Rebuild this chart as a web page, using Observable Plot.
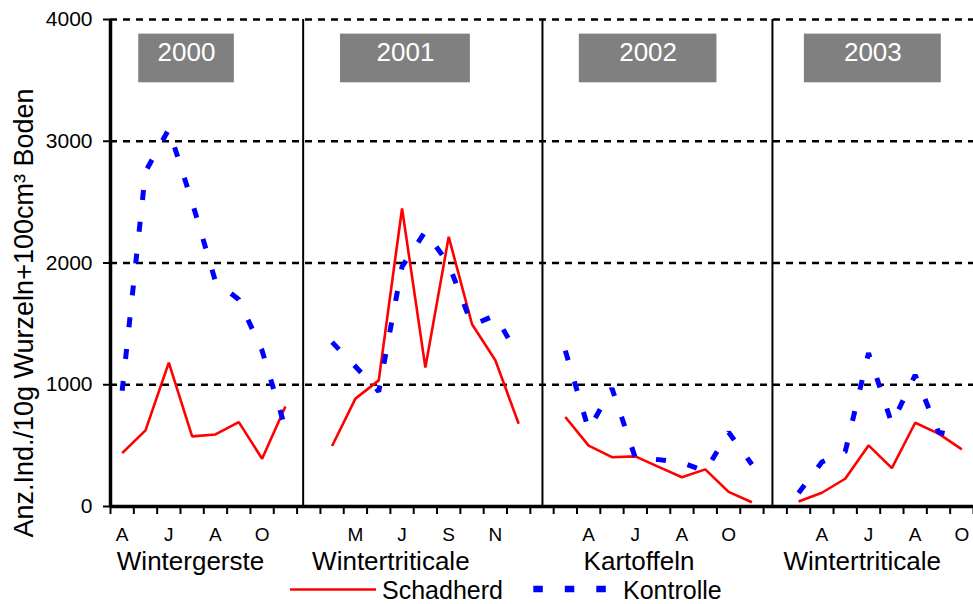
<!DOCTYPE html>
<html>
<head>
<meta charset="utf-8">
<script src="https://cdn.jsdelivr.net/npm/d3@7"></script>
<script src="https://cdn.jsdelivr.net/npm/@observablehq/plot@0.6"></script>
<style>
  body { margin: 0; background: #fff; font-family: "Liberation Sans", Arial, sans-serif; }
  #wrap { position: relative; width: 973px; height: 604px; overflow: hidden; background: #fff; }
  #legend { position: absolute; left: 0; top: 569px; width: 973px; height: 35px; }
</style>
</head>
<body>
<div id="wrap"><div id="chart"></div><div id="legend"></div></div>
<script>
// ---- data ----
const years = ["2000", "2001", "2002", "2003"];
const crops = ["Wintergerste", "Wintertriticale", "Kartoffeln", "Wintertriticale"];
// month slot index along the time axis (one slot per month, gaps between seasons)
const slots2000 = [0, 1, 2, 3, 4, 5, 6, 7];
const slots2001 = [9, 10, 11, 12, 13, 14, 15, 16, 17];
const slots2002 = [19, 20, 21, 22, 23, 24, 25, 26, 27];
const slots2003 = [29, 30, 31, 32, 33, 34, 35, 36];
const schadherd2000 = [438, 625, 1182, 576, 592, 693, 392, 822];
const schadherd2001 = [497, 886, 1036, 2448, 1141, 2215, 1497, 1201, 680];
const schadherd2002 = [735, 500, 405, 412, 325, 240, 305, 120, 35];
const schadherd2003 = [41, 113, 228, 502, 315, 688, 598, 469];
const kontrolle2000 = [950, 2750, 3100, 2500, 1850, 1700, 1280, 640];
const kontrolle2001 = [1350, 1150, 945, 1970, 2260, 1990, 1490, 1570, 1230];
const kontrolle2002 = [1280, 630, 970, 400, 385, 360, 290, 610, 345];
const kontrolle2003 = [110, 365, 450, 1260, 680, 1080, 610, 570];
const yTicks = [0, 1000, 2000, 3000, 4000];
const monthSlots = [0, 2, 4, 6, 10, 12, 14, 16, 20, 22, 24, 26, 30, 32, 34, 36];
const monthLabels = ["A", "J", "A", "O", "M", "J", "S", "N", "A", "J", "A", "O", "A", "J", "A", "O"];
const seriesNames = ["Schadherd", "Kontrolle"];

// ---- annotation layout (slot units) ----
const cropCenters = [3.43, 12.02, 22.66, 32.23];
const separators = [8.26, 18.52, 28.38];
const yearBoxX1 = [1.21, 9.86, 20.1, 29.75];
const yearBoxX2 = [5.31, 15.43, 26.0, 35.62];

// ---- build tables ----
const slots = [slots2000, slots2001, slots2002, slots2003];
const schad = [schadherd2000, schadherd2001, schadherd2002, schadherd2003];
const kont = [kontrolle2000, kontrolle2001, kontrolle2002, kontrolle2003];
function rowsFor(vals, name) {
  const out = [];
  vals.forEach((arr, p) => arr.forEach((v, i) => out.push({series: name, panel: p, slot: slots[p][i] + 0.5, value: v})));
  return out;
}
const schadRows = rowsFor(schad, seriesNames[0]);
const kontRows = rowsFor(kont, seriesNames[1]);
const boxes = years.map((y, i) => ({year: y, x1: yearBoxX1[i], x2: yearBoxX2[i]}));
const monthMap = new Map(monthSlots.map((s, i) => [s + 0.5, monthLabels[i]]));
const cropMap = new Map(cropCenters.map((c, i) => [c, crops[i]]));

const font = '"Liberation Sans", Arial, sans-serif';
const chart = Plot.plot({
  width: 973,
  height: 577,
  marginLeft: 110,
  marginRight: 0,
  marginTop: 19,
  marginBottom: 71,
  style: {fontFamily: font, background: "white", color: "black", overflow: "hidden"},
  x: {domain: [0, 37], axis: null},
  y: {domain: [0, 4000], axis: null},
  marks: [
    Plot.ruleY(yTicks.slice(1), {stroke: "black", strokeWidth: 2.5, strokeDasharray: "7,6"}),
    Plot.ruleX(separators, {y1: 0, y2: 4000, stroke: "black", strokeWidth: 2}),
    Plot.rect(boxes, {x1: "x1", x2: "x2", y1: 3480, y2: 3880, fill: "#808080"}),
    Plot.text(boxes, {x: d => (d.x1 + d.x2) / 2, y: 3725, text: "year", fill: "white", fontSize: 26}),
    Plot.line(schadRows, {x: "slot", y: "value", z: "panel", stroke: "#ff0000", strokeWidth: 2.6, strokeLinejoin: "miter", strokeLinecap: "butt"}),
    Plot.line(kontRows, {x: "slot", y: "value", z: "panel", stroke: "#0000ff", strokeWidth: 5, strokeDasharray: "10,22", strokeLinecap: "butt", strokeLinejoin: "miter"}),
    Plot.axisY({ticks: yTicks, tickSize: 7, tickPadding: 11, fontSize: 21, tickFormat: d => String(d), strokeWidth: 2, label: null}),
    Plot.ruleX([0], {stroke: "black", strokeWidth: 3.5}),
    Plot.ruleY([0], {stroke: "black", strokeWidth: 3.5}),
    Plot.axisX({ticks: d3.range(0, 38), tickSize: 8, tickFormat: () => "", strokeWidth: 2, label: null}),
    Plot.axisX({ticks: monthSlots.map(s => s + 0.5), tickSize: 0, tickPadding: 21, fontSize: 19, tickFormat: d => monthMap.get(d), label: null}),
    Plot.axisX({ticks: cropCenters, tickSize: 0, tickPadding: 45.5, fontSize: 26, tickFormat: d => cropMap.get(d), label: null})
  ]
});

d3.select(chart).append("text")
  .attr("transform", "translate(33,313) rotate(-90)")
  .attr("text-anchor", "middle")
  .attr("font-size", 27)
  .attr("font-family", font)
  .attr("fill", "black")
  .text("Anz.Ind./10g Wurzeln+100cm³ Boden");

document.getElementById("chart").appendChild(chart);

// ---- legend ----
const lg = d3.select("#legend").append("svg").attr("width", 973).attr("height", 35)
  .style("font-family", font);
lg.append("line").attr("x1", 290).attr("x2", 376).attr("y1", 20.5).attr("y2", 20.5)
  .attr("stroke", "#ff0000").attr("stroke-width", 2.6);
lg.append("text").attr("x", 382).attr("y", 29.5).attr("font-size", 25).attr("fill", "black").text(seriesNames[0]);
lg.append("line").attr("x1", 533.3).attr("x2", 607).attr("y1", 20).attr("y2", 20)
  .attr("stroke", "#0000ff").attr("stroke-width", 6.5).attr("stroke-dasharray", "9.5,22");
lg.append("text").attr("x", 623).attr("y", 29.5).attr("font-size", 25).attr("fill", "black").text(seriesNames[1]);
</script>
</body>
</html>
